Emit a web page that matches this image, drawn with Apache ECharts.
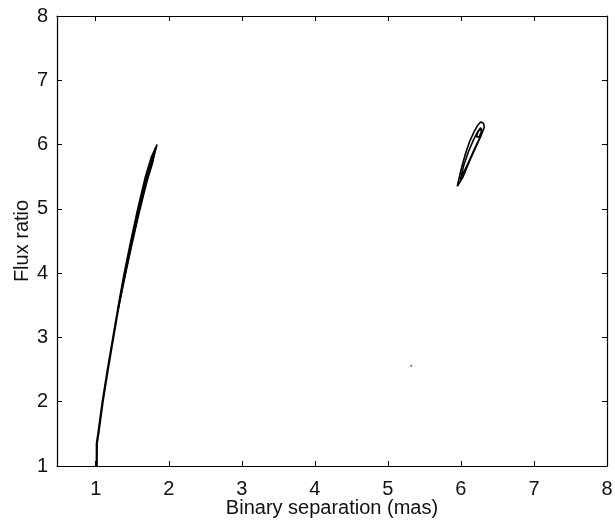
<!DOCTYPE html>
<html>
<head>
<meta charset="utf-8">
<script src="https://cdn.jsdelivr.net/npm/echarts@6/dist/echarts.min.js"></script>
<style>html,body{margin:0;padding:0;background:#fff}#c{width:615px;height:521px}</style>
</head>
<body>
<div id="c"></div>
<script>
// Tick labels
const xTicks = [1, 2, 3, 4, 5, 6, 7, 8];
const yTicks = [1, 2, 3, 4, 5, 6, 7, 8];

// Left contour (thin closed loop), [separation, flux ratio]
const leftLoopOuter = [
  [1.010,1.00],[1.010,1.35],[1.030,1.50],[1.090,2.00],[1.160,2.50],[1.235,3.00],
  [1.310,3.50],[1.390,4.00],[1.480,4.50],[1.575,5.00],[1.680,5.50],[1.760,5.80],[1.840,6.00],
  [1.790,5.80],[1.710,5.50],[1.600,5.00],[1.500,4.50],[1.405,4.00],[1.320,3.50],
  [1.245,3.00],[1.170,2.50],[1.100,2.00],[1.040,1.50],[1.020,1.35],[1.018,1.00]
];
const leftLoopInner = [
  [1.300,3.40],[1.380,3.90],[1.470,4.40],[1.570,4.90],[1.670,5.40],[1.750,5.70],[1.820,5.95],
  [1.780,5.72],[1.700,5.42],[1.590,4.92],[1.490,4.42],[1.395,3.92],[1.300,3.40]
];
// Right contour cluster
const rightOuter = [
  [5.95,5.35],[6.00,5.60],[6.06,5.85],[6.12,6.05],[6.18,6.20],[6.23,6.30],[6.27,6.35],
  [6.31,6.33],[6.32,6.27],[6.29,6.18],[6.22,6.00],[6.12,5.75],[6.03,5.50],[5.95,5.35]
];
const rightMiddle = [
  [5.99,5.45],[6.04,5.68],[6.10,5.88],[6.17,6.07],[6.23,6.20],[6.27,6.26],[6.29,6.22],
  [6.27,6.13],[6.20,5.97],[6.11,5.74],[6.03,5.55],[5.99,5.45]
];
const rightInner = [
  [6.21,6.12],[6.24,6.21],[6.27,6.24],[6.28,6.20],[6.25,6.12],[6.21,6.12]
];
// Isolated stray point
const strayPoint = [[5.32,2.56]];

const chart = echarts.init(document.getElementById('c'), null, {renderer:'canvas'});
const tickFont = {fontFamily:'Liberation Sans, Arial, sans-serif', fontSize:20, color:'#111'};
const nameFont = {fontFamily:'Liberation Sans, Arial, sans-serif', fontSize:20, color:'#111'};
function lineSeries(d){
  return {type:'line', data:d, showSymbol:false, symbol:'none', silent:true,
    lineStyle:{color:'#000', width:1.6}, xAxisIndex:0, yAxisIndex:0, animation:false, z:3};
}
chart.setOption({
  animation:false,
  backgroundColor:'#fff',
  grid:{left:57, right:8, top:16, bottom:55, containLabel:false, outerBoundsMode:'none'},
  xAxis:[
    {type:'value', min:0.47, max:8, position:'bottom',
     name:'Binary separation (mas)', nameLocation:'middle', nameGap:32, nameMoveOverlap:false,
     nameTextStyle:nameFont,
     axisLine:{show:true, onZero:false, lineStyle:{color:'#000', width:1.2}},
     axisTick:{show:true, inside:true, length:5, customValues:xTicks, lineStyle:{color:'#000'}},
     axisLabel:{customValues:xTicks, margin:13, ...tickFont},
     splitLine:{show:false}},
    {type:'value', min:0.47, max:8, position:'top',
     axisLine:{show:true, onZero:false, lineStyle:{color:'#000', width:1.2}},
     axisTick:{show:true, inside:true, length:5, customValues:xTicks, lineStyle:{color:'#000'}},
     axisLabel:{show:false}, splitLine:{show:false}}
  ],
  yAxis:[
    {type:'value', min:1, max:8, interval:1, position:'left',
     name:'Flux ratio', nameLocation:'middle', nameGap:25, nameRotate:90, nameMoveOverlap:false,
     nameTextStyle:nameFont,
     axisLine:{show:true, onZero:false, lineStyle:{color:'#000', width:1.2}},
     axisTick:{show:true, inside:true, length:5, lineStyle:{color:'#000'}},
     axisLabel:{margin:9, ...tickFont},
     splitLine:{show:false}},
    {type:'value', min:1, max:8, interval:1, position:'right',
     axisLine:{show:true, onZero:false, lineStyle:{color:'#000', width:1.2}},
     axisTick:{show:true, inside:true, length:5, lineStyle:{color:'#000'}},
     axisLabel:{show:false}, splitLine:{show:false}}
  ],
  series:[
    lineSeries(leftLoopOuter),
    lineSeries(leftLoopInner),
    lineSeries(rightOuter),
    lineSeries(rightMiddle),
    lineSeries(rightInner),
    {type:'scatter', data:strayPoint, symbolSize:2, itemStyle:{color:'#333'}, silent:true}
  ]
});
</script>
</body>
</html>
